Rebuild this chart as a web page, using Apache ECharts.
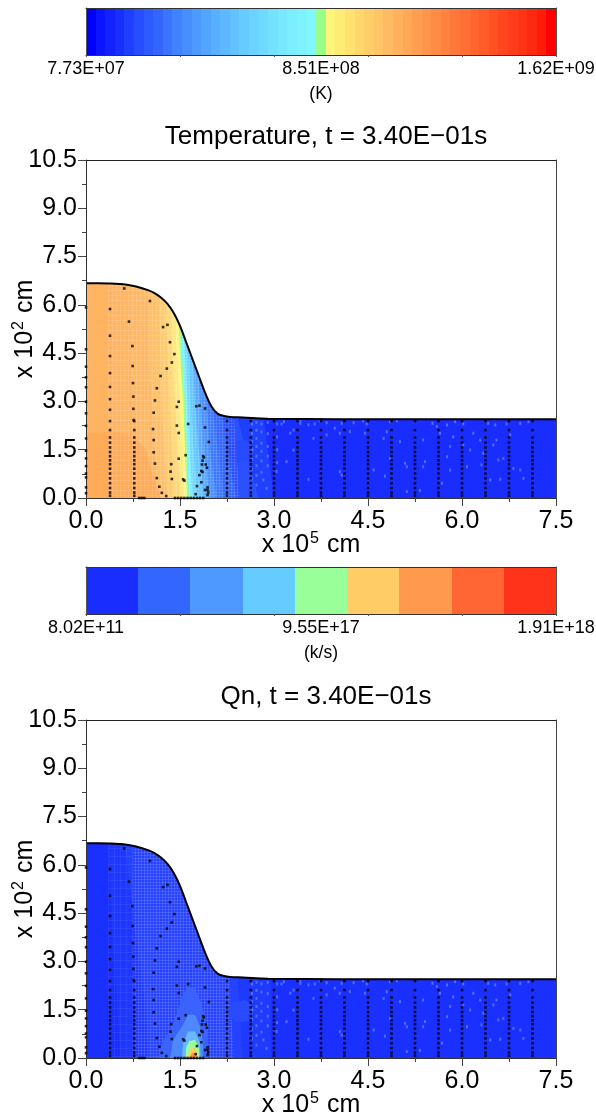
<!DOCTYPE html>
<html>
<head>
<meta charset="utf-8">
<style>html,body{margin:0;padding:0;background:#fff}#chart{width:596px;height:1116px}</style>
<script src="https://cdn.jsdelivr.net/npm/echarts@6/dist/echarts.min.js"></script>
</head>
<body>
<div id="chart"></div>
<script>
// colour bars
var tempBarCells = ['#0000ff','#0a14ff','#1122ff','#1830ff','#1f3fff','#264dff','#2d5bff','#3366ff','#3a74ff','#4082ff','#478fff','#4d99ff','#53a4ff','#58aeff','#5db8ff','#62c2ff','#66ccff','#6bd3ff','#6fdaff','#73e1ff','#77e8ff','#7beeff','#7ef3ff','#80f7ff','#99ff88','#fff57a','#ffec75','#ffe270','#ffd86c','#ffce68','#ffc566','#ffbb62','#ffb15c','#ffa855','#ff9e50','#ff954a','#ff8b44','#ff823f','#ff7839','#ff6f34','#ff652e','#ff5c29','#ff5224','#ff471f','#ff3d1a','#ff3315','#ff2810','#ff1c0a','#ff0000'];
var qnBarCells = ['#1a2dff','#3366ff','#4d99ff','#66ccff','#99ff99','#ffcc66','#ff994d','#ff6633','#ff331a'];
var tempBarLabels = ['7.73E+07','8.51E+08','1.62E+09'];
var qnBarLabels = ['8.02E+11','9.55E+17','1.91E+18'];

// free surface, x in 1e5 cm, height in 1e2 cm
var surfaceX = [0,0.2,0.4,0.6,0.8,1.0,1.1,1.2,1.3,1.4,1.5,1.6,1.7,1.8,1.9,2.0,2.1,2.2,2.3,2.5,2.9,4,5,6,7.5];
var surfaceY = [6.67,6.67,6.66,6.64,6.57,6.45,6.36,6.22,6.03,5.75,5.35,4.83,4.31,3.79,3.27,2.85,2.62,2.55,2.52,2.50,2.46,2.45,2.45,2.45,2.45];

// temperature isotherms: x of each band's left edge at these heights
var edgeHeights = [0,1.5,3,4.5,7,10.5];
var tempEdges = [
  [0,0,0,0,0,0],
  [0.90,0.85,0.75,0.70,0.70,0.70],
  [1.15,1.10,1.05,1.00,1.00,1.00],
  [1.30,1.25,1.20,1.18,1.15,1.15],
  [1.40,1.37,1.33,1.30,1.25,1.25],
  [1.50,1.46,1.42,1.38,1.33,1.33],
  [1.56,1.53,1.49,1.45,1.40,1.40],
  [1.61,1.58,1.55,1.50,1.45,1.45],
  [1.64,1.61,1.58,1.53,1.48,1.48],
  [1.70,1.66,1.62,1.58,1.52,1.52],
  [1.78,1.72,1.67,1.63,1.58,1.58],
  [1.88,1.80,1.74,1.70,1.65,1.65],
  [1.98,1.88,1.82,1.78,1.72,1.72],
  [2.08,1.98,1.92,1.88,1.82,1.82],
  [2.20,2.10,2.02,1.95,1.90,1.90],
  [2.40,2.25,2.15,2.05,2.00,2.00],
  [2.75,2.55,2.35,2.20,2.10,2.10],
  [3.00,2.90,2.80,2.70,2.70,2.70]
];
var tempEdgeColors = ['#ffb462','#ffb966','#ffc06a','#ffcb70','#ffd878','#ffe880','#fff580','#99ff88','#80eeff','#70d8ff','#66c4ff','#58a8ff','#4a90ff','#3d78ff','#3366ff','#2a50ff','#2040ff','#1a2dff'];
var tempHotX = [0,0,0.4,0.75,0.95,1.05,1.2];
var tempHotY = [0,2.0,2.05,1.95,1.5,0.8,0];
var ringX = [2.25,2.35,2.55,2.7,2.6,2.4];
var ringY = [1.4,1.75,1.8,1.5,1.15,1.1];

// Qn bands and the contour blob at the bottom of the slope
var qnEdges = [
  [0,0,0,0,0,0],
  [0.55,0.50,0.45,0.40,0.35,0.35],
  [1.00,0.95,0.85,0.75,0.60,0.60],
  [2.50,2.45,2.40,2.40,2.40,2.40],
  [2.95,2.95,2.95,2.95,2.95,2.95]
];
var qnEdgeColors = ['#1a30ff','#1e38ff','#2442ff','#1f3aff','#1a30ff'];
var qnBlobX = [
  [1.15,1.21,1.34,1.47,1.53,1.63,1.74,1.82,1.90,1.94,1.95],
  [1.34,1.39,1.53,1.63,1.74,1.82,1.87,1.87],
  [1.53,1.55,1.63,1.74,1.82,1.83],
  [1.59,1.60,1.65,1.74,1.80,1.81],
  [1.63,1.64,1.70,1.76,1.78],
  [1.65,1.69,1.74,1.77]
];
var qnBlobY = [
  [0,0.46,0.87,1.49,1.91,2.22,2.16,1.80,1.28,0.77,0],
  [0,0.56,0.97,1.34,1.34,0.97,0.46,0],
  [0,0.46,0.82,0.82,0.46,0],
  [0,0.33,0.53,0.56,0.33,0],
  [0,0.20,0.33,0.27,0],
  [0,0.15,0.15,0]
];
var qnBlobColors = ['#3a62ff','#4d88ff','#66b8ff','#99ff99','#ffcc66','#ff8f4d'];

// light mesh cells seen in the blue part
var speckX = [3.16,3.12,3.42,3.42,3.73,3.84,3.55,3.65,3.97,4.08,4.27,4.42,4.48,4.80,4.85,4.96,5.53,5.60,5.76,5.89,6.02,6.42,6.53,6.71,6.93,7.06,3.26,3.31,3.63,3.84,4.05,4.21,4.45,4.75,5.01,5.38,5.65,5.86,6.18,6.29,6.55,6.77,3.31,3.20,3.04,3.55,4.05,4.08,4.59,4.77,4.85,5.09,5.12,5.41,5.38,5.68,5.76,5.81,6.08,6.31,6.58,6.66,6.82,6.93,6.98,6.61,6.45,5.12,5.33,5.81,6.02,6.13,6.50,6.34,2.88,2.83,2.65,2.65,2.65,2.65,2.65,2.65,2.65,2.72,2.72,2.72,2.72,2.72,2.72,2.72,2.72,2.80,2.80,2.80,2.80,2.80,2.80,2.90,2.90,2.90,2.90,2.90,3.05,3.05,3.05,3.05];
var speckY = [2.37,2.30,2.32,2.42,2.40,2.34,2.27,2.30,2.17,2.32,2.34,2.40,2.30,2.06,2.37,2.40,2.32,2.22,2.27,2.37,2.30,2.32,2.27,2.30,2.32,2.37,2.01,2.11,1.85,1.96,2.01,2.06,2.01,1.85,1.75,1.80,2.01,1.90,2.01,1.80,1.80,1.96,1.49,1.13,0.82,0.58,0.82,0.71,0.87,0.68,1.23,1.08,0.97,1.13,0.97,0.46,1.28,0.87,0.97,1.03,1.18,1.23,0.92,0.87,0.61,0.58,0.56,0.20,0.23,1.60,1.65,1.49,1.65,1.39,0.30,0.56,2.30,2.00,1.75,1.50,1.20,0.90,0.60,2.35,2.10,1.85,1.60,1.30,1.00,0.70,0.40,2.30,2.05,1.70,1.45,1.15,0.80,2.35,2.00,1.60,1.30,1.00,2.30,1.90,1.50,1.10];

// tracer particles
var tracerColX = [0.383,0.77,2.25,2.63,3.0,3.375,3.75,4.125,4.5,4.875,5.25,5.625,6.0,6.375,6.75,7.125];
var tracerRowY = [2.39,2.11,1.88,1.72,1.57,1.43,1.30,1.17,1.05,0.91,0.76,0.61,0.46,0.31,0.17,0.07];
var tracerAxisY = [5.92,4.62,4.08,3.75,3.44,2.99,2.63,2.24,1.85,1.47,1.23,0.99,0.76,0.64,0.33,0.15];
var tracerFloorX = [0.85,0.89,0.93,1.42,1.47,1.52,1.57,1.62,1.67,1.72,1.77,1.82,1.87];
var tracerFreeX = [0.383,0.383,0.383,0.383,0.383,0.383,0.383,0.61,0.686,0.74,0.745,0.75,0.756,0.756,0.76,1.02,1.23,1.19,1.13,1.10,1.08,1.07,1.08,1.08,1.10,1.13,1.17,1.21,1.28,1.30,1.34,1.41,1.37,1.29,1.48,1.45,1.45,1.48,1.59,1.48,1.36,1.35,1.37,1.55,1.57,1.76,1.81,1.90,1.63,1.90,1.96,1.87,1.88,1.86,1.85,1.91,1.93,1.84,1.86,1.81,1.84,1.77,1.75,1.90,1.94,1.94,1.95,1.94];
var tracerFreeY = [5.87,5.04,4.41,3.88,3.45,3.07,2.74,6.51,5.48,4.72,4.10,3.57,3.15,2.77,2.42,6.12,5.31,3.79,3.41,3.03,2.65,2.14,1.80,1.42,1.07,0.62,0.35,0.16,0.06,5.38,4.84,4.47,4.21,4.02,2.99,2.83,2.25,2.02,1.33,1.22,1.05,0.82,0.59,0.58,0.54,2.85,2.87,2.78,2.30,2.19,1.74,1.30,1.26,1.16,1.04,1.04,0.94,0.84,0.81,0.71,0.49,0.37,0.12,0.25,0.33,0.25,0.17,0.09];

var FONT = '"Liberation Sans", Arial, sans-serif';

function zip(a, b) { return a.map(function (v, i) { return [v, b[i]]; }); }

var tracers = zip(tracerFreeX, tracerFreeY);
tracerColX.forEach(function (x) { tracerRowY.forEach(function (y) { tracers.push([x, y]); }); });
tracerAxisY.forEach(function (y) { tracers.push([0, y]); });
tracerFloorX.forEach(function (x) { tracers.push([x, 0]); });

function meshPattern(w, h, color) {
  var c = document.createElement('canvas');
  c.width = w; c.height = h;
  var g = c.getContext('2d');
  g.fillStyle = color;
  g.fillRect(0, 0, 1, h);
  g.fillRect(0, 0, w, 1);
  return { image: c, repeat: 'repeat' };
}

function polySeries(xi, yi, polys, z) {
  return {
    type: 'custom', xAxisIndex: xi, yAxisIndex: yi, z: z, silent: true, clip: true,
    data: polys.map(function (p, i) { return [i]; }),
    encode: { x: -1, y: -1 },
    renderItem: function (params, api) {
      var p = polys[params.dataIndex];
      return {
        type: 'polygon',
        shape: { points: p.pts.map(function (d) { return api.coord(d); }) },
        style: { fill: p.fill }
      };
    }
  };
}

function edgePolys(edges, colors) {
  return edges.map(function (e, k) {
    var left = e.map(function (x, i) { return [x, edgeHeights[i]]; });
    return { pts: left.concat([[7.5, 10.5], [7.5, 0]]), fill: colors[k] };
  });
}

var tempPolys = edgePolys(tempEdges, tempEdgeColors);
tempPolys.push({ pts: zip(tempHotX, tempHotY), fill: '#ffab57' });
tempPolys.push({ pts: zip(ringX, ringY), fill: '#2a4aff' });
tempPolys.push({ pts: [[0.35, 0], [0.35, 7], [1.45, 7], [1.6, 0]], fill: meshPattern(4, 5, 'rgba(255,255,255,0.12)') });
tempPolys.push({ pts: [[1.6, 0], [1.45, 7], [2.2, 7], [2.45, 0]], fill: meshPattern(3, 3, 'rgba(255,255,255,0.12)') });

var qnPolys = edgePolys(qnEdges, qnEdgeColors);
qnPolys.push({ pts: [[0.35, 0], [0.35, 7], [0.75, 7], [0.75, 0]], fill: meshPattern(6, 8, 'rgba(255,255,255,0.06)') });
qnPolys.push({ pts: [[0.75, 0], [0.75, 7], [2.2, 7], [2.35, 0]], fill: meshPattern(3, 3, 'rgba(255,255,255,0.13)') });
qnPolys.push({ pts: zip(ringX, ringY), fill: '#2a4aff' });
qnBlobX.forEach(function (xs, k) {
  qnPolys.push({ pts: zip(xs, qnBlobY[k]), fill: qnBlobColors[k] });
});

var grids = [], xAxes = [], yAxes = [], series = [];

function addBar(top, cells, labels, unit, unitGap) {
  var g = grids.length, n = cells.length;
  grids.push({ left: 86, width: 470, top: top, height: 47, outerBoundsMode: 'none' });
  var tickAt = [0, 0.2, 0.4, 0.6, 0.8, 1].map(function (f) { return f * n; });
  var labelAt = [0, n / 2, n];
  var xi = xAxes.length, yi = yAxes.length;
  xAxes.push({
    gridIndex: g, type: 'value', min: 0, max: n, z: 10,
    name: unit, nameLocation: 'middle', nameGap: unitGap, nameMoveOverlap: false,
    nameTextStyle: { fontFamily: FONT, fontSize: 17.5, color: '#000' },
    axisLine: { show: true, onZero: false, lineStyle: { color: '#333', width: 1 } },
    axisTick: { show: true, length: 2, customValues: tickAt, lineStyle: { color: '#555' } },
    axisLabel: {
      show: true, margin: 5, fontFamily: FONT, fontSize: 18, color: '#000', customValues: labelAt,
      formatter: function (v) { return labels[labelAt.indexOf(v)]; }
    },
    splitLine: { show: false }
  });
  yAxes.push({
    gridIndex: g, type: 'value', min: 0, max: 1, z: 10,
    axisLine: { show: true, onZero: false, lineStyle: { color: '#555', width: 1 } },
    axisTick: { show: false }, axisLabel: { show: false }, splitLine: { show: false }
  });
  // top and right edges of the box
  xAxes.push({ gridIndex: g, type: 'value', min: 0, max: n, position: 'top', z: 10, axisLine: { show: true, onZero: false, lineStyle: { color: '#333' } }, axisTick: { show: false }, axisLabel: { show: false }, splitLine: { show: false } });
  yAxes.push({ gridIndex: g, type: 'value', min: 0, max: 1, position: 'right', z: 10, axisLine: { show: true, onZero: false, lineStyle: { color: '#555' } }, axisTick: { show: false }, axisLabel: { show: false }, splitLine: { show: false } });
  series.push({
    type: 'custom', xAxisIndex: xi, yAxisIndex: yi, z: 2, silent: true,
    data: cells.map(function (c, i) { return [i, i + 1]; }),
    encode: { x: [0, 1] },
    renderItem: function (params, api) {
      var a = api.coord([api.value(0), 1]), b = api.coord([api.value(1), 0]);
      return {
        type: 'rect',
        shape: { x: Math.round(a[0]), y: a[1], width: Math.round(b[0]) - Math.round(a[0]), height: b[1] - a[1] },
        style: { fill: cells[params.dataIndex] }
      };
    }
  });
}

function addField(top, polys) {
  var g = grids.length;
  grids.push({ left: 86, width: 470, top: top, height: 338, outerBoundsMode: 'none' });
  var labelStyle = { fontFamily: FONT, fontSize: 25, color: '#000' };
  var nameRich = { a: { fontFamily: FONT, fontSize: 25, color: '#000' }, s: { fontFamily: FONT, fontSize: 16, color: '#000', verticalAlign: 'top', padding: [0, 1, 12, 1] } };
  var xi = xAxes.length, yi = yAxes.length;
  xAxes.push({
    gridIndex: g, type: 'value', min: 0, max: 7.5, interval: 1.5, z: 10,
    name: '{a|x 10}{s|5}{a| cm}', nameLocation: 'middle', nameGap: 33, nameMoveOverlap: false,
    nameTextStyle: { rich: nameRich, padding: [0, 20, 0, 0] },
    axisLine: { show: true, onZero: false, lineStyle: { color: '#333', width: 1 } },
    axisTick: { show: true, length: 8, lineStyle: { color: '#444' } },
    minorTick: { show: true, splitNumber: 2, length: 4, lineStyle: { color: '#444' } },
    axisLabel: Object.assign({ margin: 11, formatter: function (v) { return v.toFixed(1); } }, labelStyle),
    splitLine: { show: false }
  });
  yAxes.push({
    gridIndex: g, type: 'value', min: 0, max: 10.5, interval: 1.5, z: 10,
    name: '{a|x 10}{s|2}{a| cm}', nameLocation: 'middle', nameGap: 47, nameMoveOverlap: false,
    nameTextStyle: { rich: nameRich },
    axisLine: { show: true, onZero: false, lineStyle: { color: '#333', width: 1 } },
    axisTick: { show: true, length: 8, lineStyle: { color: '#444' } },
    minorTick: { show: true, splitNumber: 2, length: 4, lineStyle: { color: '#444' } },
    axisLabel: Object.assign({ margin: 9, formatter: function (v) { return v.toFixed(1); } }, labelStyle),
    splitLine: { show: false }
  });
  xAxes.push({ gridIndex: g, type: 'value', min: 0, max: 7.5, position: 'top', z: 10, axisLine: { show: true, onZero: false, lineStyle: { color: '#222' } }, axisTick: { show: false }, axisLabel: { show: false }, splitLine: { show: false } });
  yAxes.push({ gridIndex: g, type: 'value', min: 0, max: 10.5, position: 'right', z: 10, axisLine: { show: true, onZero: false, lineStyle: { color: '#444' } }, axisTick: { show: false }, axisLabel: { show: false }, splitLine: { show: false } });

  series.push(polySeries(xi, yi, polys, 1));
  series.push({
    type: 'scatter', xAxisIndex: xi, yAxisIndex: yi, z: 2, silent: true,
    symbol: 'rect', symbolSize: [2, 3], data: zip(speckX, speckY),
    itemStyle: { color: '#5f7dff' }
  });
  series.push({
    type: 'line', xAxisIndex: xi, yAxisIndex: yi, z: 3, silent: true,
    data: zip(surfaceX, surfaceY), smooth: 0.4, showSymbol: false,
    lineStyle: { color: '#000', width: 2 },
    areaStyle: { origin: 'end', color: '#fff', opacity: 1 }
  });
  series.push({
    type: 'scatter', xAxisIndex: xi, yAxisIndex: yi, z: 11, silent: true, clip: false,
    symbol: 'rect', symbolSize: 2.6, data: tracers,
    itemStyle: { color: '#000' }
  });
}

addBar(8, tempBarCells, tempBarLabels, '(K)', 30);
addField(160, tempPolys);
addBar(567, qnBarCells, qnBarLabels, '(k/s)', 30);
addField(720, qnPolys);

var chart = echarts.init(document.getElementById('chart'), null, { renderer: 'canvas' });
chart.setOption({
  animation: false,
  backgroundColor: '#fff',
  title: [
    { text: 'Temperature, t = 3.40E\u221201s', left: 321, top: 119, textAlign: 'center', textStyle: { fontFamily: FONT, fontSize: 26, fontWeight: 'normal', color: '#000' } },
    { text: 'Qn, t = 3.40E\u221201s', left: 321, top: 679, textAlign: 'center', textStyle: { fontFamily: FONT, fontSize: 26, fontWeight: 'normal', color: '#000' } }
  ],
  grid: grids,
  xAxis: xAxes,
  yAxis: yAxes,
  series: series
});
</script>
</body>
</html>
